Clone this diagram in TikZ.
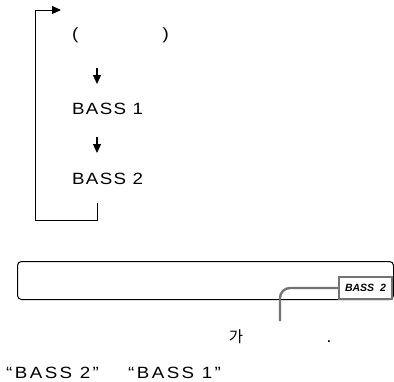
\documentclass[tikz,border=0pt]{standalone}
\usepackage{fontspec}
\setmainfont{Liberation Sans}
\newfontfamily\kofont{Noto Sans CJK KR}
\newfontfamily\widefont[FakeStretch=1.15,LetterSpace=8]{Liberation Sans}
\newfontfamily\quotefont[FakeStretch=1.15,LetterSpace=15]{Liberation Sans}
\usetikzlibrary{arrows.meta}
\begin{document}
\begin{tikzpicture}[x=1pt,y=-1pt,
  lbl/.style={inner sep=0pt,anchor=base west,font=\widefont\fontsize{16.3}{18}\selectfont},
  qlbl/.style={inner sep=0pt,anchor=base west,font=\quotefont\fontsize{16.3}{18}\selectfont},
  tip/.style={-{Triangle[length=9pt,width=8pt]}},
  leader/.style={draw=black!55,line width=2.4pt},
  tag/.style={draw=black!55,line width=2pt,fill=white,inner sep=0pt,minimum width=53pt,minimum height=22pt,font=\fontsize{10.5}{12}\selectfont\bfseries\itshape}]
\useasboundingbox (0,0) rectangle (394,381);
% loop
\coordinate (lt) at (35,10);
\coordinate (ltend) at (61,10);
\coordinate (lb) at (35,220);
\coordinate (rb) at (97,220);
\coordinate (rt) at (97,203);
\draw[line width=1pt,tip] (rt) -- (rb) -- (lb) -- (lt) -- (ltend);
\node[lbl] (po) at (72,39.5) {(};
\node[lbl,anchor=base east] (pc) at (169,39.5) {)};
\coordinate (a1s) at (97,68);
\coordinate (a1e) at (97,84);
\draw[line width=1.2pt,tip] (a1s) -- (a1e);
\node[lbl] (b1) at (72,114.5) {BASS 1};
\coordinate (a2s) at (97,137);
\coordinate (a2e) at (97,153);
\draw[line width=1.2pt,tip] (a2s) -- (a2e);
\node[lbl] (b2) at (72,184) {BASS 2};
% display
\node[draw,line width=1pt,rounded corners=4pt,minimum width=376pt,minimum height=38pt,inner sep=0pt,anchor=north west] (disp) at (17,261) {};
\node[tag,anchor=north east] (tg) at (393,276) {BASS\ \ 2};
\coordinate (ld) at (280,321);
\draw[leader,rounded corners=10pt] (tg.west) -| (ld);
\node[inner sep=0pt,anchor=base,font=\kofont\fontsize{15.5}{18}\selectfont] (ga) at (236,342) {가};
\node[lbl,anchor=base] (dot) at (329,342) {.};
\node[qlbl] (q2) at (6,378) {“BASS 2”};
\node[qlbl] (q1) at (128,378) {“BASS 1”};
\end{tikzpicture}
\end{document}
